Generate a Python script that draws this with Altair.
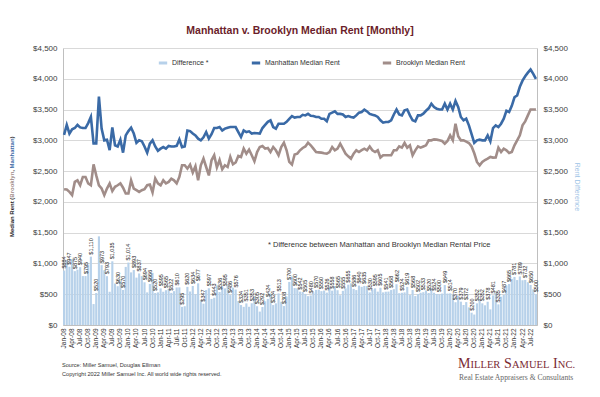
import altair as alt
import pandas as pd

MONTH_NAMES = ["Jan", "Feb", "Mar", "Apr", "May", "Jun", "Jul", "Aug", "Sep", "Oct", "Nov", "Dec"]
N_MONTHS = 177  # Jan-08 .. Sep-22
months = [f"{MONTH_NAMES[i % 12]}-{8 + i // 12:02d}" for i in range(N_MONTHS)]

manhattan = [
    3090, 3250, 3110, 3180, 3200, 3250, 3210, 3200, 3200, 3280, 3380, 2950,
    2950, 3710, 3190, 3000, 3010, 2840, 3210, 2920, 2900, 3010, 2800, 3080,
    3150, 3205, 3110, 2960, 3000, 2985, 2900, 2800, 2946, 3000, 2900, 2830,
    2865, 2890, 2865, 2910, 2900, 2900, 2910, 3016, 2890, 2900, 3160, 3150,
    3110, 3080, 3027, 3000, 3050, 3135, 3027, 3100, 3200, 3200, 3216, 3160,
    3190, 3205, 3216, 3216, 3216, 3135, 3054, 3160, 3135, 3146, 3110, 3120,
    3115, 3110, 3200, 3250, 3300, 3325, 3216, 3190, 3270, 3270, 3270, 3300,
    3350, 3395, 3370, 3380, 3380, 3415, 3405, 3430, 3400, 3395, 3380, 3380,
    3350, 3350, 3310, 3430, 3450, 3470, 3430, 3430, 3420, 3380, 3395, 3380,
    3370, 3405, 3450, 3460, 3500, 3470, 3430, 3415, 3405, 3380, 3325, 3287,
    3298, 3300, 3325, 3420, 3500, 3420, 3405, 3487, 3500, 3405, 3325, 3308,
    3405, 3405, 3433, 3480, 3520, 3595, 3540, 3514, 3500, 3500, 3595, 3500,
    3595, 3500, 3640, 3541, 3379, 3325, 3352, 3243, 3100, 2960, 3000, 3011,
    3000, 3000, 3081, 2984, 3200, 3243, 3216, 3270, 3352, 3480, 3460, 3560,
    3700, 3730, 3870, 3970, 4040, 4100, 4150, 4080, 4000,
]

brooklyn = [
    2206, 2200, 2163, 2110, 2325, 2350, 2270, 2405, 2405, 2300, 2270, 2610,
    2430, 2270, 2217, 2110, 2217, 2300, 2175, 2245, 2270, 2300, 2230, 2136,
    2136, 2350, 2217, 2190, 2163, 2190, 2206, 2270, 2280, 2152, 2380, 2300,
    2270, 2350, 2300, 2325, 2378, 2350, 2300, 2405, 2595, 2595, 2540, 2605,
    2476, 2580, 2350, 2595, 2703, 2567, 2430, 2676, 2757, 2560, 2680, 2530,
    2595, 2567, 2730, 2610, 2640, 2746, 2730, 2865, 2784, 2850, 2757, 2660,
    2810, 2892, 2908, 2865, 2876, 2810, 2892, 2838, 2757, 2892, 2962, 2838,
    2650, 2606, 2770, 2784, 2838, 2876, 2900, 2962, 2920, 2865, 2810, 2805,
    2800, 2790, 2784, 2810, 2892, 2838, 2865, 2946, 2865, 2784, 2740, 2703,
    2784, 2838, 2810, 2840, 2865, 2838, 2900, 2838, 2810, 2838, 2720, 2757,
    2757, 2757, 2757, 2838, 2838, 2903, 2881, 2957, 2881, 2919, 2757, 2838,
    2903, 2881, 2900, 2919, 3000, 3000, 3016, 3011, 3000, 2989, 2946, 2989,
    3081, 3000, 3270, 3065, 3000, 3000, 2980, 2957, 2900, 2790, 2648, 2594,
    2648, 2680, 2703, 2730, 2719, 2720, 2881, 2810, 2865, 2838, 2795, 2810,
    2919, 3000, 3081, 3243, 3308, 3405, 3500, 3500, 3500,
]

assert len(manhattan) == N_MONTHS and len(brooklyn) == N_MONTHS

series_names = ["Difference *", "Manhattan Median Rent", "Brooklyn Median Rent"]
series_colors = ["#b7d1ea", "#3a6aa6", "#a18d89"]
y_ticks = list(range(0, 4501, 500))
x_ticks = months[::3]

FONT = "Liberation Sans"
SERIF = "Liberation Serif"

df = pd.DataFrame({"month": months, "idx": list(range(N_MONTHS)),
                   "Manhattan Median Rent": manhattan, "Brooklyn Median Rent": brooklyn})
df["diff"] = df["Manhattan Median Rent"] - df["Brooklyn Median Rent"]
df["series"] = "Difference *"

long_df = df.melt(id_vars=["month", "idx"],
                  value_vars=["Brooklyn Median Rent", "Manhattan Median Rent"],
                  var_name="series", value_name="rent")

color_scale = alt.Scale(domain=series_names, range=series_colors)

x_enc = alt.X("month:N", sort=months,
              scale=alt.Scale(paddingInner=0.2, paddingOuter=0),
              axis=alt.Axis(values=x_ticks, labelAngle=-90, title=None, ticks=False,
                            labelFontSize=6.5, labelColor="#333333", labelFont=FONT,
                            labelPadding=3, domainColor="#bfbfbf", grid=False))

y_scale = alt.Scale(domain=[0, 4500], nice=False, zero=True)

bars = alt.Chart(df).mark_bar(color=series_colors[0]).encode(
    x=x_enc,
    y=alt.Y("diff:Q", scale=y_scale,
            axis=alt.Axis(orient="left", values=y_ticks, format="$,.0f", title=None,
                          grid=True, gridColor="#d9d9d9", domainColor="#bfbfbf",
                          ticks=False, labelPadding=6, labelFontSize=8,
                          labelColor="#404040", labelFont=FONT)),
)

bar_labels = alt.Chart(df).transform_filter("datum.idx % 2 == 0").mark_text(
    angle=270, align="left", baseline="middle", dx=2, fontSize=5.5,
    font=FONT, color="#222222"
).encode(
    x=x_enc,
    y=alt.Y("diff:Q", scale=y_scale, axis=None),
    text=alt.Text("diff:Q", format="$,.0f"),
)

lines = alt.Chart(long_df).mark_line(strokeWidth=2.6).encode(
    x=x_enc,
    y=alt.Y("rent:Q", scale=y_scale,
            axis=alt.Axis(orient="right", values=y_ticks, format="$,.0f",
                          title="Rent Difference", titleColor="#9dc3e6",
                          titleFontWeight="normal", titleFontSize=7, titleFont=FONT,
                          titlePadding=6, grid=False, domainColor="#bfbfbf",
                          ticks=False, labelPadding=6, labelFontSize=8,
                          labelColor="#404040", labelFont=FONT)),
    color=alt.Color("series:N", scale=color_scale,
                    legend=alt.Legend(orient="none", legendX=94, legendY=9,
                                      direction="horizontal", title=None,
                                      symbolType="stroke", symbolStrokeWidth=3,
                                      symbolSize=70, labelFontSize=7,
                                      labelFont=FONT, labelColor="#333333",
                                      columnPadding=36, labelOffset=3)),
    detail="series:N",
)


def note(text, x, y, size, color, font=FONT, weight="normal", angle=0,
         align="left", baseline="alphabetic"):
    return alt.Chart(pd.DataFrame({"t": [text]})).mark_text(
        align=align, baseline=baseline, fontSize=size, color=color, font=font,
        fontWeight=weight, angle=angle
    ).encode(x=alt.value(x), y=alt.value(y), text="t:N")


LOGO = "#7b2a33"
decor = [
    note("* Difference between Manhattan and Brooklyn Median Rental Price",
         205, 199, 7.5, "#333333"),
    note("Source: Miller Samuel, Douglas Elliman", -1, 319, 5.6, "#333333"),
    note("Copyright 2022 Miller Samuel Inc.  All world wide rights reserved.",
         -1, 328, 5.6, "#333333"),
    # left axis title, multicoloured
    note("Median Rent (", -51, 189, 6, "#222222", weight="bold", angle=270, baseline="middle"),
    note("Brooklyn", -51, 149.7, 6, "#a18d89", weight="bold", angle=270, baseline="middle"),
    note(", ", -51, 123.7, 6, "#222222", weight="bold", angle=270, baseline="middle"),
    note("Manhattan", -51, 120.4, 6, "#3a6aa6", weight="bold", angle=270, baseline="middle"),
    note(")", -51, 90.4, 6, "#222222", weight="bold", angle=270, baseline="middle"),
    # logo
    note("M", 395, 320, 14, LOGO, font=SERIF),
    note("ILLER", 407.6, 320, 10.5, LOGO, font=SERIF),
    note("S", 441, 320, 14, LOGO, font=SERIF),
    note("AMUEL", 449, 320, 10.5, LOGO, font=SERIF),
    note("I", 490, 320, 14, LOGO, font=SERIF),
    note("NC.", 494.8, 320, 10.5, LOGO, font=SERIF),
    note("Real Estate Appraisers & Consultants", 396, 332, 7.6, "#666666", font=SERIF),
]

chart = alt.layer(bars, bar_labels, lines, *decor).resolve_scale(
    y="independent"
).properties(
    width=474,
    height=277,
    autosize=alt.AutoSizeParams(type="none"),
    padding={"left": 55, "top": 40, "right": 55, "bottom": 64},
    background="white",
    title=alt.TitleParams(text="Manhattan v. Brooklyn Median Rent [Monthly]",
                          fontSize=10.5, fontWeight="bold", color="#6b1d2a",
                          font=FONT, anchor="middle", offset=8),
).configure_view(strokeWidth=0)

chart.save("out.html", embed_options={"renderer": "svg", "actions": False})
